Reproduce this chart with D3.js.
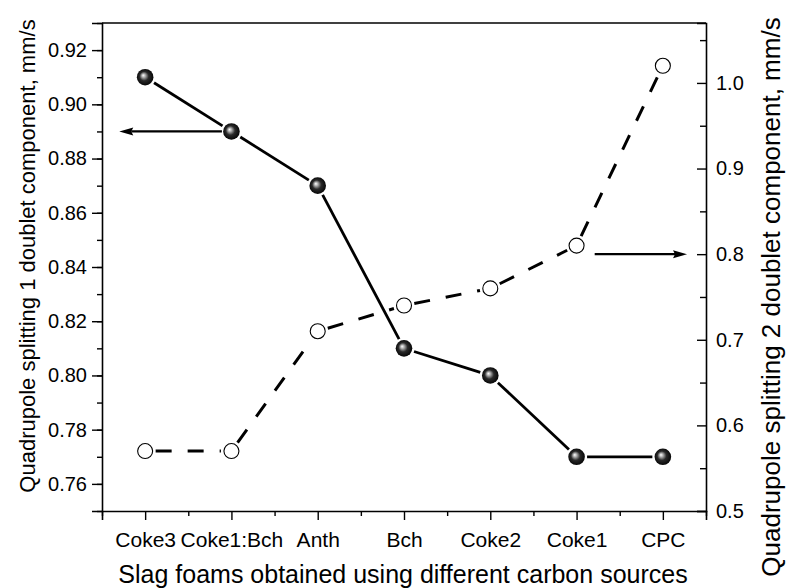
<!DOCTYPE html>
<html>
<head>
<meta charset="utf-8">
<script src="https://cdn.jsdelivr.net/npm/d3@7"></script>
<style>
  body { margin: 0; background: #fff; }
  svg { font-family: "Liberation Sans", Arial, sans-serif; }
</style>
</head>
<body>
<div id="chart"></div>
<script>
/* DATA */
const categories = ["Coke3", "Coke1:Bch", "Anth", "Bch", "Coke2", "Coke1", "CPC"];
const split1 = [0.91, 0.89, 0.87, 0.81, 0.80, 0.77, 0.77];   // left axis, filled spheres
const split2 = [0.57, 0.57, 0.71, 0.74, 0.76, 0.81, 1.02];   // right axis, open circles
const leftTicks = [0.76, 0.78, 0.80, 0.82, 0.84, 0.86, 0.88, 0.90, 0.92];
const rightTicks = [0.5, 0.6, 0.7, 0.8, 0.9, 1.0];

/* LAYOUT */
const width = 786, height = 588;
const margin = { top: 23, right: 80, bottom: 77, left: 102 };
const right = width - margin.right;      // 706
const bottom = height - margin.bottom;   // 511

const svg = d3.select("#chart").append("svg")
  .attr("width", width)
  .attr("height", height);

// sphere gradient
const defs = svg.append("defs");
const grad = defs.append("radialGradient")
  .attr("id", "sphere")
  .attr("cx", "50%").attr("cy", "50%").attr("r", "55%")
  .attr("fx", "38%").attr("fy", "38%");
grad.append("stop").attr("offset", "0%").attr("stop-color", "#ffffff");
grad.append("stop").attr("offset", "18%").attr("stop-color", "#b8b8b8");
grad.append("stop").attr("offset", "50%").attr("stop-color", "#2a2a2a");
grad.append("stop").attr("offset", "100%").attr("stop-color", "#000000");

/* SCALES */
const x = d3.scaleLinear().domain([0.5, 7.5]).range([margin.left, right]);
const yL = d3.scaleLinear().domain([0.75, 0.93]).range([bottom, margin.top]);
const yR = d3.scaleLinear().domain([0.5, 1.07]).range([bottom, margin.top]);

/* AXES */
// left axis
const gL = svg.append("g").attr("transform", `translate(${margin.left},0)`);
gL.call(d3.axisLeft(yL).tickValues(leftTicks).tickSize(10).tickPadding(5)
  .tickFormat(d3.format(".2f")));
gL.append("g").call(d3.axisLeft(yL)
  .tickValues(d3.range(0.75, 0.935, 0.01)).tickSize(5).tickFormat(""))
  .select(".domain").remove();

// right axis (ticks inward)
const gR = svg.append("g").attr("transform", `translate(${right},0)`);
gR.call(d3.axisRight(yR).tickValues(rightTicks).tickSize(-9).tickPadding(10)
  .tickFormat(d3.format(".1f")));
gR.append("g").call(d3.axisRight(yR)
  .tickValues(d3.range(0.55, 1.07, 0.1)).tickSize(-6).tickFormat(""))
  .select(".domain").remove();

// bottom axis
const gB = svg.append("g").attr("transform", `translate(0,${bottom})`);
gB.call(d3.axisBottom(x).tickValues(d3.range(1, 8)).tickSize(9).tickPadding(12)
  .tickFormat(i => categories[i - 1]));
gB.append("g").call(d3.axisBottom(x)
  .tickValues(d3.range(0.5, 7.6, 1)).tickSize(5).tickFormat(""))
  .select(".domain").remove();

// top frame line
svg.append("line")
  .attr("x1", margin.left).attr("x2", right)
  .attr("y1", margin.top).attr("y2", margin.top)
  .attr("stroke", "#000").attr("stroke-width", 1.6);

svg.selectAll(".domain").attr("stroke-width", 1.6).attr("stroke", "#000");
svg.selectAll(".tick line").attr("stroke-width", 1.4).attr("stroke", "#000");
svg.selectAll(".tick text").attr("font-size", "20px").attr("fill", "#000")
  .attr("font-family", "Liberation Sans, Arial, sans-serif");
gB.selectAll(".tick text").attr("font-size", "21px");

/* AXIS TITLES */
svg.append("text")
  .attr("x", 403).attr("y", 583)
  .attr("text-anchor", "middle")
  .attr("font-size", "25px")
  .text("Slag foams obtained using different carbon sources");

svg.append("text")
  .attr("transform", `translate(35,256) rotate(-90)`)
  .attr("text-anchor", "middle")
  .attr("font-size", "22px")
  .text("Quadrupole splitting 1 doublet component, mm/s");

svg.append("text")
  .attr("transform", `translate(780,297) rotate(-90)`)
  .attr("text-anchor", "middle")
  .attr("font-size", "26px")
  .text("Quadrupole splitting 2 doublet component, mm/s");

/* LINES */
function segments(values, yScale, trim) {
  const pts = values.map((v, i) => [x(i + 1), yScale(v)]);
  return d3.pairs(pts).map(([a, b]) => {
    const dx = b[0] - a[0], dy = b[1] - a[1];
    const len = Math.hypot(dx, dy);
    const ux = dx / len, uy = dy / len;
    return [a[0] + ux * trim, a[1] + uy * trim, b[0] - ux * trim, b[1] - uy * trim];
  });
}

svg.append("g").selectAll("line")
  .data(segments(split2, yR, 10.5))
  .join("line")
  .attr("x1", d => d[0]).attr("y1", d => d[1])
  .attr("x2", d => d[2]).attr("y2", d => d[3])
  .attr("stroke", "#000").attr("stroke-width", 3)
  .attr("stroke-dasharray", "16,16");

svg.append("g").selectAll("line")
  .data(segments(split1, yL, 10.5))
  .join("line")
  .attr("x1", d => d[0]).attr("y1", d => d[1])
  .attr("x2", d => d[2]).attr("y2", d => d[3])
  .attr("stroke", "#000").attr("stroke-width", 2.8);

/* MARKERS */
svg.append("g").selectAll("circle")
  .data(split2)
  .join("circle")
  .attr("cx", (d, i) => x(i + 1))
  .attr("cy", d => yR(d))
  .attr("r", 7.5)
  .attr("fill", "#fff")
  .attr("stroke", "#000")
  .attr("stroke-width", 1.1);

svg.append("g").selectAll("circle")
  .data(split1)
  .join("circle")
  .attr("cx", (d, i) => x(i + 1))
  .attr("cy", d => yL(d))
  .attr("r", 8.3)
  .attr("fill", "url(#sphere)");

/* ARROWS */
function arrow(x1, x2, y) {
  const dir = Math.sign(x2 - x1);
  svg.append("line")
    .attr("x1", x1).attr("x2", x2 - dir * 12)
    .attr("y1", y).attr("y2", y)
    .attr("stroke", "#000").attr("stroke-width", 2.2);
  svg.append("path")
    .attr("d", `M${x2},${y} L${x2 - dir * 14},${y - 4} L${x2 - dir * 12},${y} L${x2 - dir * 14},${y + 4} Z`)
    .attr("fill", "#000");
}
arrow(x(2) - 9.5, x(0.7), yL(0.89));
arrow(x(6.21), x(7.28), yR(0.8));
</script>
</body>
</html>
